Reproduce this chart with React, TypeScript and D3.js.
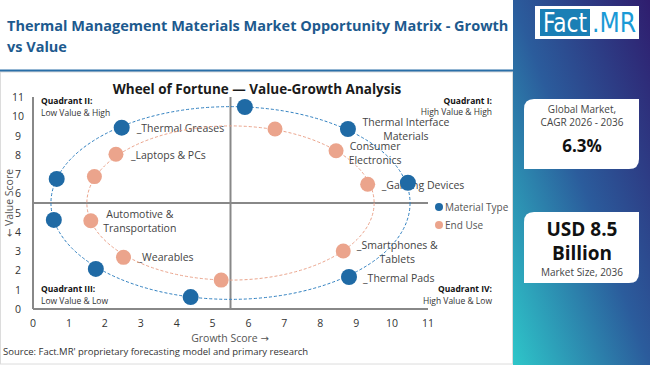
import React from "react";
import * as d3 from "d3";

// axis ticks
const tickValues = [0, 1, 2, 3, 4, 5, 6, 7, 8, 9, 10, 11];

// Material Type series
const materialGrowth = [5.9, 8.77, 10.44, 8.8, 4.39, 1.75, 0.58, 0.66, 2.47];
const materialValue = [10.48, 9.34, 6.55, 1.66, 0.62, 2.08, 4.62, 6.75, 9.41];
const materialNames = ["", "Thermal Interface\nMaterials", "", "_Thermal Pads", "", "", "", "", "_Thermal Greases"];

// End Use series
const endUseGrowth = [6.74, 8.44, 9.32, 8.64, 5.24, 2.52, 1.61, 1.71, 2.31];
const endUseValue = [9.34, 8.21, 6.47, 3.01, 1.5, 2.68, 4.58, 6.87, 8.03];
const endUseNames = ["", "Consumer\nElectronics", "_Gaming Devices", "_Smartphones &\nTablets", "", "_Wearables", "Automotive &\nTransportation", "", "_Laptops & PCs"];

const seriesNames = ["Material Type", "End Use"];
const ringRadius = [5, 4];

// label placement (pixels relative to point)
const labelPlace: Record<string, { dx: number; dy: number; anchor: string }> = {
  "Thermal Interface\nMaterials": { dx: 58, dy: -3, anchor: "middle" },
  "_Thermal Pads": { dx: 14, dy: 5, anchor: "start" },
  "_Thermal Greases": { dx: 15, dy: 4, anchor: "start" },
  "Consumer\nElectronics": { dx: 39, dy: -1, anchor: "middle" },
  "_Gaming Devices": { dx: 14, dy: 4.5, anchor: "start" },
  "_Smartphones &\nTablets": { dx: 54, dy: -2, anchor: "middle" },
  "_Wearables": { dx: 14, dy: 4, anchor: "start" },
  "Automotive &\nTransportation": { dx: 49, dy: -3, anchor: "middle" },
  "_Laptops & PCs": { dx: 15, dy: 4.5, anchor: "start" },
};

const BLUE = "#1f6aa5";
const ORANGE = "#eba48c";
const FONT = "'Open Sans', sans-serif";
const ARROW = "'DejaVu Sans', sans-serif";

const App = () => {
  const x = d3.scaleLinear().domain([0, 11]).range([33, 428]);
  const y = d3.scaleLinear().domain([0, 11]).range([309, 97]);

  const series = [
    { color: BLUE, dash: "#2f7fc0", xs: materialGrowth, ys: materialValue, names: materialNames },
    { color: ORANGE, dash: ORANGE, xs: endUseGrowth, ys: endUseValue, names: endUseNames },
  ];

  const labels = series.flatMap((s) =>
    s.names.map((n, i) => ({ n, px: x(s.xs[i]), py: y(s.ys[i]) })).filter((d) => d.n)
  );

  return (
    <svg width={650} height={365} style={{ position: "absolute", left: 0, top: 0, fontFamily: FONT }}>
      <defs>
        <linearGradient id="side" x1="1" y1="0" x2="0" y2="1">
          <stop offset="0" stopColor="#2f1d6e" />
          <stop offset="0.5" stopColor="#2b5c9c" />
          <stop offset="1" stopColor="#2ec6c9" />
        </linearGradient>
      </defs>
      <rect width={650} height={365} fill="#fff" />
      {/* header */}
      <text x={7} y={31} fontSize={14.5} fontWeight={700} fill="#1d5a8e">
        Thermal Management Materials Market Opportunity Matrix - Growth
      </text>
      <text x={7} y={52} fontSize={14.5} fontWeight={700} fill="#1d5a8e">vs Value</text>
      <rect x={0} y={69.5} width={513} height={2.5} fill="#2a6fa8" />
      <rect x={0.5} y={72} width={512} height={292} fill="none" stroke="#dcdcdc" />

      {/* right panel */}
      <rect x={513} y={0} width={137} height={365} fill="url(#side)" />
      <rect x={535} y={6} width={104} height={33} fill="#fff" />
      <rect x={540} y={9} width={50} height={27} fill="#1a7fb5" />
      <text x={543} y={32} fontSize={27} fill="#fff" fontFamily="'Liberation Sans Narrow', 'DejaVu Sans Condensed', sans-serif" textLength={44} lengthAdjust="spacingAndGlyphs">Fact</text>
      <text x={592} y={32} fontSize={27} fill="#1a9ad6" fontFamily="'Liberation Sans Narrow', 'DejaVu Sans Condensed', sans-serif" textLength={44} lengthAdjust="spacingAndGlyphs">.MR</text>

      <path d="M534,99 H639 V159 Q639,169 629,169 H524 V109 Q524,99 534,99 Z" fill="#fff" />
      <text x={582} y={112.5} fontSize={10} fill="#444" textAnchor="middle">Global Market,</text>
      <text x={582} y={125.5} fontSize={10} fill="#444" textAnchor="middle">CAGR 2026 - 2036</text>
      <text x={582} y={152} fontSize={17} fontWeight={700} fill="#111" textAnchor="middle">6.3%</text>

      <path d="M534,212 H639 V273 Q639,283 629,283 H524 V222 Q524,212 534,212 Z" fill="#fff" />
      <text x={582} y={236} fontSize={19} fontWeight={700} fill="#111" textAnchor="middle">USD 8.5</text>
      <text x={582} y={260} fontSize={19} fontWeight={700} fill="#111" textAnchor="middle">Billion</text>
      <text x={582} y={276} fontSize={10} fill="#444" textAnchor="middle">Market Size, 2036</text>

      {/* chart title */}
      <text x={257} y={94} fontSize={13.5} fontWeight={700} fill="#1a1a1a" textAnchor="middle">
        Wheel of Fortune — Value-Growth Analysis
      </text>

      {/* axes and quadrant lines */}
      <g stroke="#888" strokeWidth={2}>
        <line x1={x(0)} x2={x(0)} y1={y(11)} y2={y(0)} />
        <line x1={x(0)} x2={x(11)} y1={y(0)} y2={y(0)} />
        <line x1={x(5.5)} x2={x(5.5)} y1={y(11)} y2={y(0)} />
        <line x1={x(0)} x2={x(11)} y1={y(5.5)} y2={y(5.5)} />
      </g>
      <g fontSize={10.5} fill="#333" textAnchor="middle">
        {tickValues.map((t) => (
          <text key={"x" + t} x={x(t)} y={327}>{t}</text>
        ))}
        {tickValues.map((t) => (
          <text key={"y" + t} x={18} y={y(t) + 4}>{t}</text>
        ))}
      </g>
      <text x={230} y={342} fontSize={10.5} fill="#555" textAnchor="middle">
        Growth Score <tspan fontFamily={ARROW} fontSize={10}>→</tspan>
      </text>
      <text transform="translate(13,203) rotate(-90)" fontSize={10.5} fill="#555" textAnchor="middle">
        <tspan fontFamily={ARROW} fontSize={10}>←</tspan> Value Score
      </text>

      {/* quadrant notes */}
      <g fontSize={8.5} fill="#333">
        <text x={41} y={103.5} fontWeight={700} fill="#111">Quadrant II:</text>
        <text x={41} y={116}>Low Value &amp; High</text>
        <text x={492} y={103.5} fontWeight={700} fill="#111" textAnchor="end">Quadrant I:</text>
        <text x={492} y={115} textAnchor="end">High Value &amp; High</text>
        <text x={41} y={292} fontWeight={700} fill="#111">Quadrant III:</text>
        <text x={41} y={304}>Low Value &amp; Low</text>
        <text x={492} y={292} fontWeight={700} fill="#111" textAnchor="end">Quadrant IV:</text>
        <text x={492} y={304} textAnchor="end">High Value &amp; Low</text>
      </g>

      {/* point labels */}
      <g fontSize={10.5} fill="#444">
        {labels.map((d) => {
          const p = labelPlace[d.n];
          return (
            <text key={d.n} x={d.px + p.dx} y={d.py + p.dy} textAnchor={p.anchor}>
              {d.n.split("\n").map((line, k) => (
                <tspan key={k} x={d.px + p.dx} dy={k === 0 ? 0 : 14}>{line}</tspan>
              ))}
            </text>
          );
        })}
      </g>

      {/* rings */}
      {series.map((s, i) => (
        <ellipse
          key={"ring" + i}
          cx={x(5.5)}
          cy={y(5.5)}
          rx={x(5.5 + ringRadius[i]) - x(5.5)}
          ry={y(5.5) - y(5.5 + ringRadius[i])}
          fill="none"
          stroke={s.dash}
          strokeWidth={1}
          strokeDasharray="3,2"
        />
      ))}

      {/* points */}
      {series.map((s, i) =>
        s.xs.map((v, j) => (
          <circle key={i + "-" + j} cx={x(v)} cy={y(s.ys[j])} r={i === 0 ? 8 : 7.5} fill={s.color} />
        ))
      )}

      {/* legend */}
      {seriesNames.map((n, i) => (
        <g key={n} transform={`translate(439,${207 + i * 18})`}>
          <circle cx={0} cy={0} r={4} fill={series[i].color} />
          <text x={6} y={3.5} fontSize={10} fill="#555">{n}</text>
        </g>
      ))}

      <text x={3} y={355} fontSize={9.5} fill="#333">
        Source: Fact.MR' proprietary forecasting model and primary research
      </text>
    </svg>
  );
};

export default App;
